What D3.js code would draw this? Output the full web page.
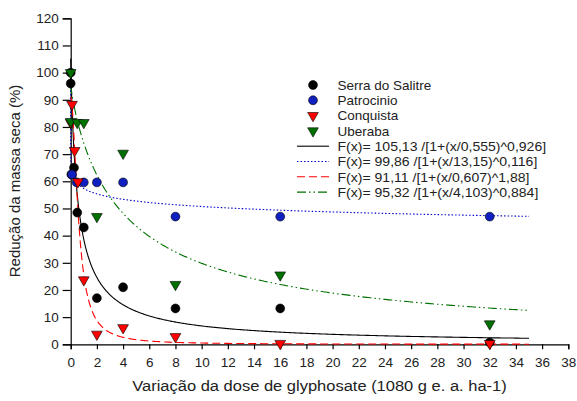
<!DOCTYPE html>
<html>
<head>
<meta charset="utf-8">
<script src="https://cdn.jsdelivr.net/npm/d3@7"></script>
<style>
  body { margin: 0; background: #fff; }
  svg { font-family: Arial, "Liberation Sans", sans-serif; }
</style>
</head>
<body>
<div id="chart"></div>
<script>
var w = 577,
	h = 401;

// data
var serraX = [0, 0, 0.05, 0.25, 0.5, 1, 2, 4, 8, 16, 32];
var serraY = [100, 96, 62.5, 65, 48.5, 43, 17, 21, 13.2, 13.2, 0.7];
var patroX = [0.1, 0.45, 1, 2, 4, 8, 16, 32];
var patroY = [62.5, 59.6, 59.6, 59.6, 59.6, 47, 47, 47];
var conqX = [0, 0.1, 0.3, 0.55, 1, 2, 4, 8, 16, 32];
var conqY = [81.6, 88.3, 71.3, 59.8, 23.7, 3.7, 6.1, 2.8, 0.3, 0.3];
var uberX = [0, 0, 0.5, 1, 2, 4, 8, 16, 32];
var uberY = [100, 82, 81.6, 81.6, 47, 70.3, 22, 25.5, 7.5];

// fitted model parameters: a / [1 + (x/b)^c]
var seriesNames = ["Serra do Salitre", "Patrocinio", "Conquista", "Uberaba"];
var fitA = [105.13, 99.86, 91.11, 95.32];
var fitB = [0.555, 13.15, 0.607, 4.103];
var fitC = [0.926, 0.116, 1.88, 0.884];
var fitLabels = [
	"F(x)= 105,13 /[1+(x/0,555)^0,926]",
	"F(x)= 99,86 /[1+(x/13,15)^0,116]",
	"F(x)= 91,11 /[1+(x/0,607)^1,88]",
	"F(x)= 95,32 /[1+(x/4,103)^0,884]"
];
var xTicks = d3.range(0, 39, 2);
var yTicks = d3.range(0, 121, 10);

var colors = ["#000000", "#0000cc", "#ff0000", "#007000"];
var dashes = [null, "1.5,2", "8,4", "9,3,1.5,3,1.5,3"];

var svg = d3.select("#chart").append("svg")
	.attr("width", w)
	.attr("height", h);

var x = d3.scaleLinear().domain([0, 38]).range([70.7, 568.3]);
var y = d3.scaleLinear().domain([0, 120]).range([344.3, 18.3]);

// axes
var gx = svg.append("g")
	.attr("transform", `translate(0,${y(0)})`)
	.call(d3.axisBottom(x).tickValues(xTicks).tickSizeOuter(0).tickSize(5).tickPadding(8));
var gy = svg.append("g")
	.attr("transform", `translate(${x(0)},0)`)
	.call(d3.axisLeft(y).tickValues(yTicks).tickSizeOuter(0).tickSize(8).tickPadding(4));

[gx, gy].forEach(function(g){
	g.select(".domain").attr("stroke", "#000").attr("stroke-width", 1.2);
	g.selectAll(".tick line").attr("stroke", "#000").attr("stroke-width", 1.2);
	g.selectAll(".tick text")
		.attr("fill", "#222")
		.style("font-size", "13.5px")
		.style("font-family", "Arial, 'Liberation Sans', sans-serif");
});

// fitted curves
var curveX = d3.range(0, 1.0001, 0.002).map(function(t){ return 35 * Math.pow(t, 3); });
var line = d3.line()
	.x(function(d){ return x(d[0]); })
	.y(function(d){ return y(d[1]); });

for (var i = 0; i < 4; i++) {
	var pts = curveX.map(function(v){
		return [v, fitA[i] / (1 + Math.pow(v / fitB[i], fitC[i]))];
	});
	svg.append("path")
		.attr("d", line(pts))
		.attr("fill", "none")
		.attr("stroke", colors[i])
		.attr("stroke-width", 1.1)
		.attr("stroke-dasharray", dashes[i]);
}

// markers
var circle = d3.symbol().type(d3.symbolCircle).size(62);
var tri = d3.symbol().type(d3.symbolTriangle).size(50);

function drawPoints(xs, ys, sym, color, flip) {
	svg.append("g").selectAll("path").data(xs).enter().append("path")
		.attr("d", sym)
		.attr("transform", function(d, i){
			return `translate(${x(d)},${y(ys[i])})` + (flip ? " rotate(180)" : "");
		})
		.attr("fill", color)
		.attr("stroke", "#000")
		.attr("stroke-width", 0.6);
}

drawPoints(serraX, serraY, circle, colors[0], false);
drawPoints(patroX, patroY, circle, "#1020c0", false);
drawPoints(conqX, conqY, tri, colors[2], true);
drawPoints(uberX, uberY, tri, "#007000", true);

// legend
var legY0 = 85, legStep = 15.3, legSymX = 313, legTxtX = 337.5;
var leg = svg.append("g").style("font-size", "13.5px");
var legFill = [colors[0], "#1020c0", colors[2], "#007000"];
seriesNames.forEach(function(name, i){
	var yy = legY0 + i * legStep;
	leg.append("path")
		.attr("d", i < 2 ? circle : tri)
		.attr("transform", `translate(${legSymX},${yy})` + (i < 2 ? "" : " rotate(180)"))
		.attr("fill", legFill[i])
		.attr("stroke", "#000")
		.attr("stroke-width", 0.6);
	leg.append("text")
		.attr("x", legTxtX)
		.attr("y", yy)
		.attr("dy", "0.35em")
		.attr("fill", "#222")
		.text(name);
});
fitLabels.forEach(function(lab, i){
	var yy = legY0 + (i + 4) * legStep;
	leg.append("line")
		.attr("x1", 297).attr("x2", 329)
		.attr("y1", yy).attr("y2", yy)
		.attr("stroke", colors[i])
		.attr("stroke-width", 1.1)
		.attr("stroke-dasharray", dashes[i]);
	leg.append("text")
		.attr("transform", `translate(${legTxtX},${yy}) scale(1.04,1)`)
		.attr("dy", "0.35em")
		.attr("fill", "#222")
		.text(lab);
});

// axis titles
svg.append("text")
	.attr("transform", "translate(319.5,391) scale(1.1,1)")
	.attr("text-anchor", "middle")
	.attr("fill", "#222")
	.style("font-size", "15px")
	.text("Variação da dose de glyphosate (1080 g e. a. ha-1)");

svg.append("text")
	.attr("transform", "translate(20,181) rotate(-90)")
	.attr("text-anchor", "middle")
	.attr("fill", "#222")
	.style("font-size", "15px")
	.text("Redução da massa seca (%)");
</script>
</body>
</html>
